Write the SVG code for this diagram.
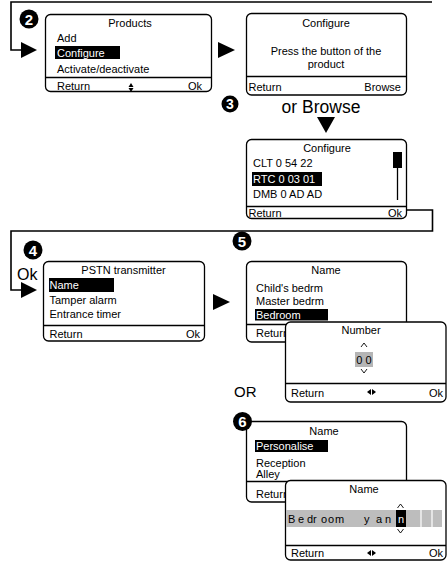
<svg xmlns="http://www.w3.org/2000/svg" width="448" height="561" viewBox="0 0 448 561">
  <style>
    .box { fill: #fff; stroke: #000; stroke-width: 1.3; }
    .div { stroke: #000; stroke-width: 1.3; }
    .t { font-family: "Liberation Sans", Arial, sans-serif; font-size: 11px; fill: #000; }
    .c { text-anchor: middle; }
    .e { text-anchor: end; }
    .w { fill: #fff; }
    .hl { fill: #000; }
    .conn { fill: none; stroke: #000; stroke-width: 1.6; }
    .arr { fill: #000; }
    .chev { fill: none; stroke: #000; stroke-width: 0.9; }
    .step { fill: #000; }
    .num { font-family: "Liberation Sans", Arial, sans-serif; font-weight: bold; font-size: 15px; fill: #fff; text-anchor: middle; }
    .big { font-family: "Liberation Sans", Arial, sans-serif; fill: #000; }
  </style>

  <!-- flow connectors and arrowheads -->
  <g id="connectors">
    <path class="conn" d="M432 2 H11 V50 H22"/>
    <polygon class="arr" points="21,42 37,50 21,58"/>
    <polygon class="arr" points="218,42 235,50 218,58"/>
    <polygon class="arr" points="317,117 335,117 326,133"/>
    <path class="conn" d="M407 210 H432.5 V231 H11 V290 H22"/>
    <polygon class="arr" points="21,282 37,290 21,298"/>
    <polygon class="arr" points="213,294 230,302 213,310"/>
  </g>

  <!-- step 2: Products menu -->
  <g id="step2">
    <circle class="step" cx="29" cy="19" r="9.5"/>
    <text class="num" x="29" y="24.5">2</text>
  </g>
  <g id="products">
    <rect class="box" x="45.5" y="14.5" width="166" height="77" rx="5"/>
    <line class="div" x1="45.5" y1="77.5" x2="211.5" y2="77.5"/>
    <text class="t c" x="130" y="27">Products</text>
    <text class="t" x="57" y="42">Add</text>
    <rect class="hl" x="55" y="46" width="65" height="13"/>
    <text class="t w" x="57" y="56.5">Configure</text>
    <text class="t" x="57" y="73">Activate/deactivate</text>
    <text class="t" x="57" y="89.5">Return</text>
    <polygon class="arr" points="131,83 128.5,87 133.5,87"/>
    <polygon class="arr" points="128.5,88 133.5,88 131,92"/>
    <text class="t e" x="202" y="89.5">Ok</text>
  </g>

  <!-- Configure: waiting for button press -->
  <g id="configure-press">
    <rect class="box" x="246.5" y="13.5" width="160" height="81.5" rx="5"/>
    <line class="div" x1="246.5" y1="76.5" x2="406.5" y2="76.5"/>
    <text class="t c" x="326" y="27">Configure</text>
    <text class="t c" x="326" y="55">Press the button of the</text>
    <text class="t c" x="326" y="68">product</text>
    <text class="t" x="248.5" y="90.5">Return</text>
    <text class="t e" x="401" y="90.5">Browse</text>
  </g>

  <!-- step 3: browse list -->
  <g id="step3">
    <circle class="step" cx="230" cy="104" r="8.5"/>
    <text class="num" x="230" y="109" style="font-size:14px">3</text>
    <text class="big c" x="321" y="112.5" style="font-size:17.5px">or Browse</text>
  </g>
  <g id="configure-list">
    <rect class="box" x="246.5" y="139.5" width="160" height="79" rx="5"/>
    <line class="div" x1="246.5" y1="206.5" x2="406.5" y2="206.5"/>
    <text class="t c" x="327" y="151.5">Configure</text>
    <text class="t" x="253" y="167">CLT 0 54 22</text>
    <rect class="hl" x="252" y="172" width="70" height="14"/>
    <text class="t w" x="253" y="183">RTC 0 03 01</text>
    <text class="t" x="253" y="198">DMB 0 AD AD</text>
    <rect class="hl" x="393" y="152" width="9" height="16"/>
    <line class="div" x1="397.5" y1="168" x2="397.5" y2="200"/>
    <text class="t" x="248.5" y="216.5">Return</text>
    <text class="t e" x="402" y="216.5">Ok</text>
  </g>

  <!-- step 4: PSTN transmitter menu -->
  <g id="step4">
    <circle class="step" cx="33" cy="250" r="9.5"/>
    <text class="num" x="33" y="255.5">4</text>
    <text class="big" x="17" y="279.5" style="font-size:16px">Ok</text>
  </g>
  <g id="pstn">
    <rect class="box" x="43.5" y="261.5" width="161" height="79.5" rx="5"/>
    <line class="div" x1="43.5" y1="325.5" x2="204.5" y2="325.5"/>
    <text class="t c" x="123.5" y="274">PSTN transmitter</text>
    <rect class="hl" x="49" y="278" width="65" height="14"/>
    <text class="t w" x="49.5" y="289">Name</text>
    <text class="t" x="49.5" y="304">Tamper alarm</text>
    <text class="t" x="49.5" y="318">Entrance timer</text>
    <text class="t" x="49.5" y="338">Return</text>
    <text class="t e" x="200" y="338">Ok</text>
  </g>

  <!-- step 5: name list and number entry -->
  <g id="step5">
    <circle class="step" cx="242" cy="241" r="9.5"/>
    <text class="num" x="242" y="246.5">5</text>
  </g>
  <g id="name-list">
    <rect class="box" x="246.5" y="261.5" width="160" height="80.5" rx="5"/>
    <line class="div" x1="246.5" y1="324.5" x2="406.5" y2="324.5"/>
    <text class="t c" x="326" y="273.5">Name</text>
    <text class="t" x="256" y="291.5">Child's bedrm</text>
    <text class="t" x="256" y="305">Master bedrm</text>
    <rect class="hl" x="255" y="309" width="73" height="11.5"/>
    <text class="t w" x="256" y="319">Bedroom</text>
    <text class="t" x="256" y="337">Return</text>
  </g>
  <g id="number">
    <rect class="box" x="285.5" y="322" width="160.5" height="80" rx="5"/>
    <line class="div" x1="285.5" y1="383.5" x2="446" y2="383.5"/>
    <text class="t c" x="361" y="334">Number</text>
    <polyline class="chev" points="361,347 364,343 367,347"/>
    <rect x="355" y="352" width="18" height="15" fill="#b5b5b5"/>
    <text class="t c" x="364" y="364">0 0</text>
    <polyline class="chev" points="361,369 364,373 367,369"/>
    <text class="t" x="291" y="396.5">Return</text>
    <polygon class="arr" points="367,392 371,389 371,395"/>
    <polygon class="arr" points="372,389 372,395 376,392"/>
    <text class="t e" x="443" y="396.5">Ok</text>
  </g>

  <text class="big" x="234" y="397" style="font-size:15px">OR</text>

  <!-- step 6: name list and free text entry -->
  <g id="name-list-2">
    <rect class="box" x="246.5" y="421.5" width="160" height="80.5" rx="5"/>
    <line class="div" x1="246.5" y1="481.5" x2="406.5" y2="481.5"/>
    <text class="t c" x="324" y="435">Name</text>
    <rect class="hl" x="255" y="440" width="73" height="12"/>
    <text class="t w" x="256" y="449.5">Personalise</text>
    <text class="t" x="256" y="466.5">Reception</text>
    <text class="t" x="256" y="478">Alley</text>
    <text class="t" x="256" y="498">Return</text>
  </g>
  <g id="step6">
    <circle class="step" cx="242.5" cy="421.5" r="9.5"/>
    <text class="num" x="242.5" y="427">6</text>
  </g>
  <g id="name-edit">
    <rect class="box" x="285.5" y="480.5" width="160.5" height="79.5" rx="5"/>
    <line class="div" x1="285.5" y1="545.5" x2="446" y2="545.5"/>
    <text class="t c" x="364" y="493">Name</text>
    <polyline class="chev" points="397.5,508 400.5,504 403.5,508"/>
    <rect x="286" y="510" width="156" height="17" fill="#bdbdbd"/>
    <line x1="421" y1="510" x2="421" y2="527" stroke="#fff" stroke-width="1.2"/>
    <line x1="432" y1="510" x2="432" y2="527" stroke="#fff" stroke-width="1.2"/>
    <text class="t" x="288 298 307 313 318 321 328 335 350 364 376 385" y="523">Bedr oom yan</text>
    <rect class="hl" x="396" y="510" width="10" height="17"/>
    <text class="t w c" x="401" y="523">n</text>
    <polyline class="chev" points="397.5,529 400.5,533 403.5,529"/>
    <text class="t" x="291" y="557">Return</text>
    <polygon class="arr" points="367,553 371,550 371,556"/>
    <polygon class="arr" points="372,550 372,556 376,553"/>
    <text class="t e" x="443" y="557">Ok</text>
  </g>
</svg>
